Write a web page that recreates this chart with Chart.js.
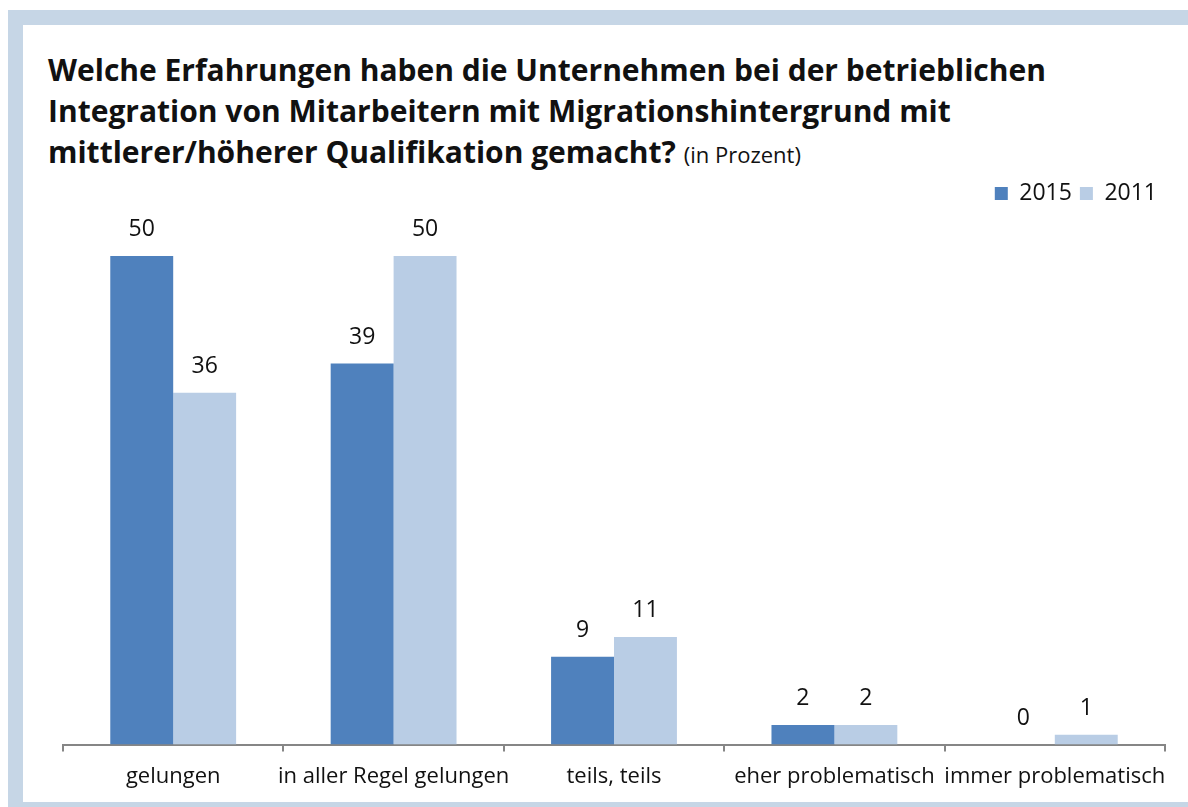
<!DOCTYPE html>
<html>
<head>
<meta charset="utf-8">
<script src="https://cdn.jsdelivr.net/npm/chart.js@4"></script>
<style>
  html, body { margin: 0; padding: 0; background: #fff; }
  body { width: 1188px; height: 807px; position: relative; overflow: hidden; font-family: "Open Sans", sans-serif; }
  #frame { position: absolute; left: 8px; top: 10px; right: 0; bottom: 0; background: #c6d6e6; }
  #inner { position: absolute; left: 23px; top: 25px; right: 0; bottom: 5px; background: #fff; }
  #title { position: absolute; left: 48px; top: 49px; font-weight: bold; font-size: 30px; line-height: 41px; color: #111; white-space: nowrap; }
  #title small { font-weight: normal; font-size: 22px; }
  #wrap { position: absolute; left: 23px; top: 170px; width: 1165px; height: 632px; }
</style>
</head>
<body>
<div id="frame"></div>
<div id="inner"></div>
<div id="title">Welche Erfahrungen haben die Unternehmen bei der betrieblichen<br>Integration von Mitarbeitern mit Migrationshintergrund mit<br>mittlerer/höherer Qualifikation gemacht? <small>(in Prozent)</small></div>
<div id="wrap"><canvas id="chart"></canvas></div>
<script>
// categories and values
const categories = ["gelungen", "in aller Regel gelungen", "teils, teils", "eher problematisch", "immer problematisch"];
const values2015 = [50, 39, 9, 2, 0];
const values2011 = [36, 50, 11, 2, 1];

// draw the value above each bar
const valueLabels = {
  id: "valueLabels",
  afterDatasetsDraw(chart) {
    const c = chart.ctx;
    c.save();
    c.font = "23px 'Open Sans', sans-serif";
    c.fillStyle = "#111";
    c.textAlign = "center";
    c.textBaseline = "bottom";
    chart.data.datasets.forEach((ds, i) => {
      chart.getDatasetMeta(i).data.forEach((bar, j) => {
        c.fillText(ds.data[j], bar.x, bar.y - 15);
      });
    });
    c.restore();
  },
};

const ctx = document.getElementById("chart").getContext("2d");

const chart = new Chart(ctx, {
  type: "bar",
  data: {
    labels: categories,
    datasets: [
      {
        label: "2015",
        data: values2015,
        backgroundColor: "#4f81bd",
        categoryPercentage: 0.571,
        barPercentage: 1,
      },
      {
        label: "2011",
        data: values2011,
        backgroundColor: "#b9cde5",
        categoryPercentage: 0.571,
        barPercentage: 1,
      },
    ],
  },
  options: {
    responsive: true,
    maintainAspectRatio: false,
    animation: false,
    layout: { padding: { left: 40, right: 23, top: 4, bottom: 0 } },
    plugins: {
      legend: {
        display: true,
        position: "top",
        align: "end",
        labels: {
          boxWidth: 13,
          boxHeight: 13,
          padding: 8,
          color: "#111",
          font: { family: "'Open Sans', sans-serif", size: 23 },
        },
      },
      tooltip: { enabled: false },
    },
    scales: {
      x: {
        grid: {
          drawOnChartArea: false,
          drawTicks: true,
          tickLength: 7,
          color: "#868686",
          lineWidth: 2,
        },
        border: { display: true, color: "#868686", width: 2 },
        ticks: {
          color: "#111",
          padding: 12,
          maxRotation: 0,
          autoSkip: false,
          font: { family: "'Open Sans', sans-serif", size: 22 },
        },
      },
      // empty top axis, only keeps space between legend and bars
      top: {
        type: "category",
        position: "top",
        grid: { display: false },
        border: { display: false },
        ticks: { display: false },
        afterFit(scale) { scale.height = 41; },
      },
      y: {
        display: false,
        min: 0,
        max: 50,
      },
    },
  },
  plugins: [valueLabels],
});
</script>
</body>
</html>
